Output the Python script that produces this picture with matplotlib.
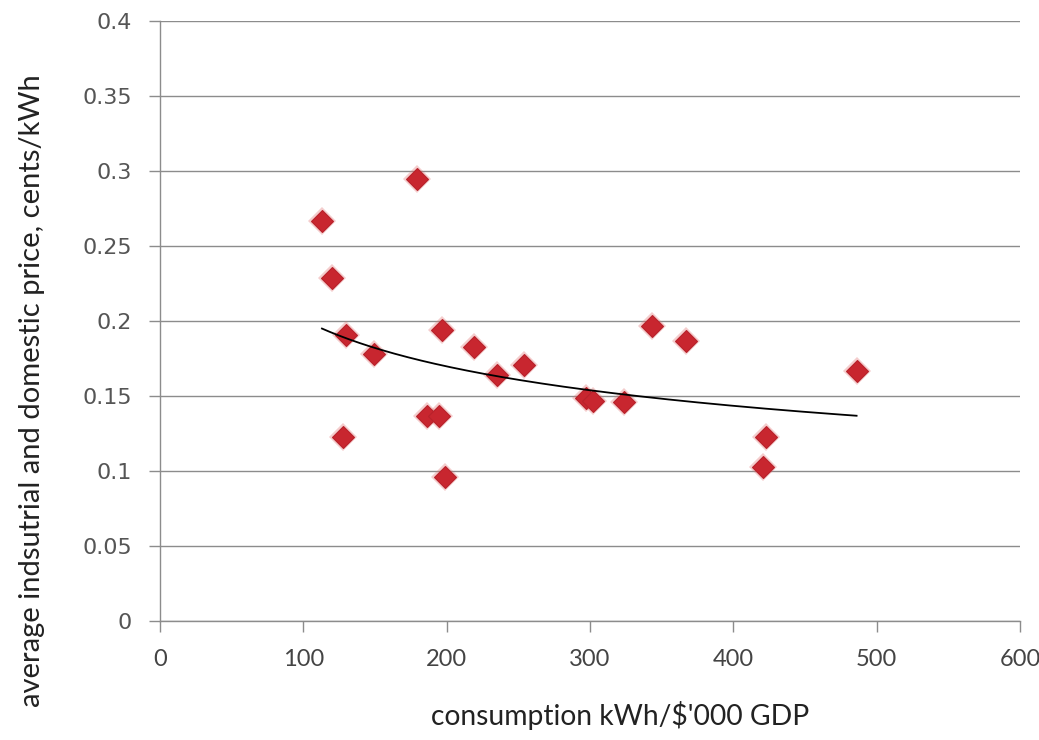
import numpy as np
import matplotlib
matplotlib.use("Agg")
import matplotlib.pyplot as plt

# data
consumption = [113, 120, 130, 128, 149, 179, 186, 195, 197, 199, 219, 235, 254,
               297, 302, 324, 343, 367, 421, 423, 486]
price = [0.267, 0.229, 0.191, 0.123, 0.178, 0.295, 0.137, 0.137, 0.194, 0.096,
         0.183, 0.164, 0.171, 0.149, 0.147, 0.146, 0.197, 0.187, 0.103, 0.123, 0.167]
x_ticks = [0, 100, 200, 300, 400, 500, 600]
y_ticks = [0, 0.05, 0.1, 0.15, 0.2, 0.25, 0.3, 0.35, 0.4]
y_tick_labels = ["0", "0.05", "0.1", "0.15", "0.2", "0.25", "0.3", "0.35", "0.4"]
x_label = "consumption kWh/$'000 GDP"
y_label = "average indsutrial and domestic price, cents/kWh"

narrow = ["Lato", "Open Sans", "DejaVu Sans"]

fig = plt.figure(figsize=(10.39, 7.40), dpi=100)
ax = fig.add_axes([0.154, 0.1608, 0.8277, 0.8108])

ax.set_xlim(0, 600)
ax.set_ylim(0, 0.4)
ax.set_xticks(x_ticks)
ax.set_yticks(y_ticks)
ax.set_yticklabels(y_tick_labels)

grid_c = "#8c8c8c"
ax.grid(axis="y", color=grid_c, linewidth=1.0)
ax.set_axisbelow(True)
for s in ["top", "right"]:
    ax.spines[s].set_visible(False)
for s in ["left", "bottom"]:
    ax.spines[s].set_color(grid_c)
    ax.spines[s].set_linewidth(1.0)
ax.tick_params(axis="both", direction="out", length=8, width=1.0, color=grid_c)
ax.tick_params(axis="y", pad=12, labelcolor="#555555", labelsize=16)
ax.tick_params(axis="x", pad=12, labelcolor="#444444", labelsize=17)
for lab in ax.get_yticklabels():
    lab.set_family("DejaVu Sans")
for lab in ax.get_xticklabels():
    lab.set_family(narrow)

# markers with a soft halo
x = np.array(consumption, dtype=float)
y = np.array(price, dtype=float)
ax.plot(x, y, linestyle="none", marker="D", markersize=14, color="#e07070",
        alpha=0.35, markeredgewidth=0, zorder=3)
ax.plot(x, y, linestyle="none", marker="D", markersize=11, color="#c8262f",
        markeredgecolor="#b8222b", markeredgewidth=0.8, zorder=4)

# power trendline fitted from the data
b, a = np.polyfit(np.log(x), np.log(y), 1)
xs = np.linspace(x.min(), x.max(), 200)
ax.plot(xs, np.exp(a) * xs ** b, color="black", linewidth=1.3, zorder=5)

fig.text(620 / 1039, 1 - 716 / 740, x_label, family=narrow, fontsize=20.3,
         color="#222222", ha="center", va="center")
fig.text(32 / 1039, 1 - 391 / 740, y_label, family=narrow, fontsize=21,
         color="#222222", ha="center", va="center", rotation=90)

fig.savefig("out.png", dpi=100, facecolor="white")
